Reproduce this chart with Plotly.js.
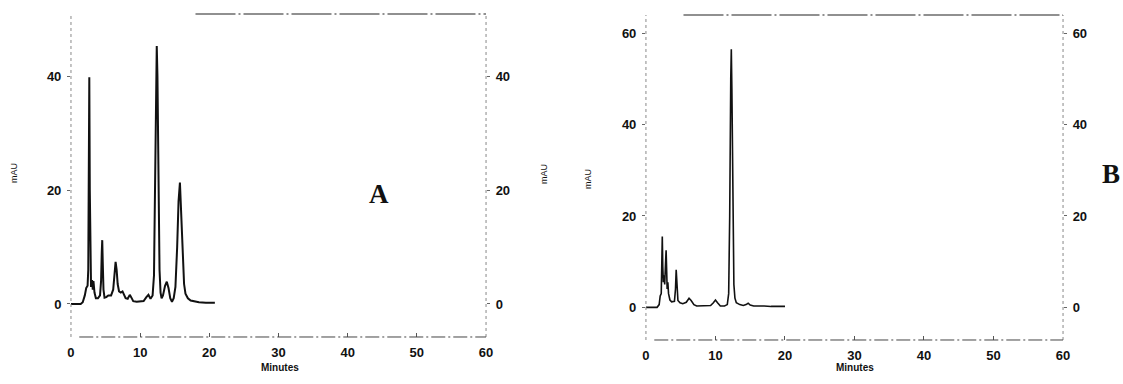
<!DOCTYPE html>
<html>
<head>
<meta charset="utf-8">
<script src="https://cdn.plot.ly/plotly-3.0.1.min.js"></script>
<style>html,body{margin:0;padding:0;background:#fff;}#chart{width:1123px;height:384px;}</style>
</head>
<body>
<div id="chart"></div>
<script>
// Chromatogram A (retention time in minutes, absorbance in mAU)
const timeA = [0, 1.4, 1.7, 2.0, 2.2, 2.4, 2.5, 2.58, 2.65, 2.72, 2.8, 2.9, 3.05, 3.15, 3.25, 3.4, 3.6, 3.9, 4.2, 4.35, 4.45, 4.52, 4.6, 4.7, 4.85, 5.1, 5.4, 5.8, 6.1, 6.3, 6.45, 6.6, 6.75, 6.95, 7.2, 7.45, 7.6, 7.9, 8.2, 8.5, 8.7, 9.0, 9.5, 10.0, 10.5, 10.9, 11.2, 11.5, 11.8, 12.0, 12.15, 12.3, 12.4, 12.5, 12.65, 12.8, 12.95, 13.1, 13.3, 13.6, 13.85, 14.1, 14.35, 14.6, 14.85, 15.1, 15.35, 15.55, 15.75, 15.9, 16.0, 16.15, 16.35, 16.55, 16.9, 17.3, 17.7, 18.5, 19.5, 20.8];
const mauA = [0, 0, 0.3, 1.5, 2.8, 3.2, 6, 20, 39.8, 20, 5, 3, 4.2, 2.5, 4.0, 2.0, 1.0, 1.0, 1.5, 4, 9, 11.2, 7, 2.5, 1.1, 1.2, 1.5, 1.5, 2.5, 5, 7.4, 6, 3.5, 2.2, 2.0, 2.2, 1.8, 1.0, 0.9, 1.6, 1.2, 0.5, 0.4, 0.4, 0.5, 1.2, 1.6, 0.9, 1.5, 5, 20, 42, 45.3, 40, 20, 6, 2, 1.0, 1.5, 3.2, 3.9, 2.8, 1.0, 0.4, 1.0, 3, 10, 18, 21.3, 16, 13.3, 8, 3.5, 1.8, 1.0, 0.6, 0.5, 0.3, 0.2, 0.2];

// Chromatogram B
const timeB = [0, 1.6, 1.9, 2.05, 2.2, 2.28, 2.35, 2.42, 2.5, 2.6, 2.7, 2.8, 2.9, 2.98, 3.05, 3.15, 3.25, 3.45, 3.7, 4.1, 4.25, 4.35, 4.45, 4.6, 4.9, 5.3, 5.8, 6.2, 6.5, 6.9, 7.3, 8.0, 8.8, 9.3, 9.7, 10.0, 10.3, 10.7, 11.3, 11.7, 11.9, 12.05, 12.2, 12.28, 12.36, 12.5, 12.65, 12.8, 13.0, 13.5, 14.0, 14.4, 14.7, 15.0, 15.5, 17, 18, 20];
const mauB = [0, 0, 0.6, 2.5, 3.0, 8, 15.5, 9, 5.5, 7, 5, 9, 12.5, 8, 4, 5.5, 3, 1.6, 1.2, 1.3, 4, 8.2, 4, 1.5, 1.0, 0.8, 1.1, 2.0, 1.5, 0.6, 0.3, 0.3, 0.4, 0.4, 1.0, 1.6, 1.0, 0.3, 0.3, 0.6, 3, 20, 50, 56.5, 48, 20, 5, 2, 1.0, 0.6, 0.4, 0.6, 0.9, 0.5, 0.3, 0.3, 0.2, 0.2];

// Axis ticks
const xTicks = [0, 10, 20, 30, 40, 50, 60];
const yTicksA = [0, 20, 40];
const yTicksB = [0, 20, 40, 60];
const panelLabels = ['A', 'B'];
const axisLabelY = 'mAU';
const axisLabelX = 'Minutes';

const tickFont = {family: 'Liberation Sans Narrow, Liberation Sans, Arial, sans-serif', size: 13, color: '#111', weight: 700};
const smallFont = {family: 'Liberation Sans, Arial, sans-serif', size: 9, color: '#111'};
const boldSmall = {family: 'Liberation Sans Narrow, Liberation Sans, Arial, sans-serif', size: 10, color: '#111', weight: 700};
const letterFont = {family: 'Liberation Serif, DejaVu Serif, serif', size: 27, color: '#111', weight: 700};

const traces = [
  {x: timeA, y: mauA, xaxis: 'x', yaxis: 'y', mode: 'lines', line: {color: '#111', width: 2}, hoverinfo: 'skip'},
  {x: timeB, y: mauB, xaxis: 'x2', yaxis: 'y2', mode: 'lines', line: {color: '#111', width: 1.6}, hoverinfo: 'skip'},
  // empty traces so the right-hand duplicate mAU axes are built
  {x: [], y: [], xaxis: 'x', yaxis: 'y3', mode: 'lines', hoverinfo: 'skip'},
  {x: [], y: [], xaxis: 'x2', yaxis: 'y4', mode: 'lines', hoverinfo: 'skip'}
];

function xAx(domain, anchor) {
  return {domain: domain, anchor: anchor, range: [0, 60], tickmode: 'array', tickvals: xTicks, ticktext: xTicks.map(String),
    ticks: 'inside', ticklen: 4, tickcolor: '#555', showgrid: false, zeroline: false, showline: false,
    tickfont: tickFont, ticklabelstandoff: 6};
}
function yAx(domain, anchor, range, vals, side, overlay) {
  const o = {domain: domain, anchor: anchor, range: range, tickmode: 'array', tickvals: vals, ticktext: vals.map(String),
    ticks: 'outside', ticklen: 3, tickcolor: '#666', showgrid: false, zeroline: false, showline: false,
    tickfont: tickFont, side: side, ticklabelstandoff: 3};
  if (overlay) o.overlaying = overlay;
  return o;
}

const dA = [0.0632, 0.4328], dB = [0.5752, 0.9466];
const rA = [-5.8, 50.9], rB = [-7.15, 64];

function frame(xr, yr, topStart) {
  const grey = {color: '#888', width: 1, dash: 'dot'};
  return [
    {type: 'line', xref: xr + ' domain', yref: yr + ' domain', x0: 0, x1: 0, y0: 0, y1: 1, line: grey},
    {type: 'line', xref: xr + ' domain', yref: yr + ' domain', x0: 1, x1: 1, y0: 0, y1: 1, line: grey},
    {type: 'line', xref: xr + ' domain', yref: yr + ' domain', x0: 0.02, x1: 1, y0: 0, y1: 0, line: {color: '#444', width: 1, dash: '14px,3px,2px,3px'}},
    {type: 'line', xref: xr + ' domain', yref: yr + ' domain', x0: topStart, x1: 1, y0: 1, y1: 1, line: {color: '#222', width: 1.2, dash: '40px,3px,2px,3px'}}
  ];
}

const layout = {
  width: 1123, height: 384, margin: {l: 0, r: 0, t: 0, b: 0},
  paper_bgcolor: '#fff', plot_bgcolor: 'rgba(0,0,0,0)', showlegend: false,
  xaxis: xAx(dA, 'y'),
  yaxis: yAx([0.1224, 0.9635], 'x', rA, yTicksA, 'left'),
  yaxis3: yAx([0.1224, 0.9635], 'x', rA, yTicksA, 'right', 'y'),
  xaxis2: xAx(dB, 'y2'),
  yaxis2: yAx([0.1146, 0.9609], 'x2', rB, yTicksB, 'left'),
  yaxis4: yAx([0.1146, 0.9609], 'x2', rB, yTicksB, 'right', 'y2'),
  shapes: frame('x', 'y', 0.3).concat(frame('x2', 'y2', 0.09)),
  annotations: [
    {text: axisLabelY, xref: 'paper', yref: 'paper', x: 14 / 1123, y: 1 - 173 / 384, textangle: -90, showarrow: false, font: smallFont, xanchor: 'center', yanchor: 'middle'},
    {text: axisLabelY, xref: 'paper', yref: 'paper', x: 544 / 1123, y: 1 - 174 / 384, textangle: -90, showarrow: false, font: smallFont, xanchor: 'center', yanchor: 'middle'},
    {text: axisLabelY, xref: 'paper', yref: 'paper', x: 588 / 1123, y: 1 - 179 / 384, textangle: -90, showarrow: false, font: smallFont, xanchor: 'center', yanchor: 'middle'},
    {text: axisLabelX, xref: 'paper', yref: 'paper', x: 280 / 1123, y: 1 - 367 / 384, showarrow: false, font: boldSmall, xanchor: 'center', yanchor: 'middle'},
    {text: axisLabelX, xref: 'paper', yref: 'paper', x: 855 / 1123, y: 1 - 367 / 384, showarrow: false, font: boldSmall, xanchor: 'center', yanchor: 'middle'},
    {text: panelLabels[0], xref: 'paper', yref: 'paper', x: 379 / 1123, y: 1 - 194 / 384, showarrow: false, font: letterFont, xanchor: 'center', yanchor: 'middle'},
    {text: panelLabels[1], xref: 'paper', yref: 'paper', x: 1111 / 1123, y: 1 - 174 / 384, showarrow: false, font: letterFont, xanchor: 'center', yanchor: 'middle'}
  ]
};

Plotly.newPlot('chart', traces, layout, {staticPlot: true, displayModeBar: false});
</script>
</body>
</html>
